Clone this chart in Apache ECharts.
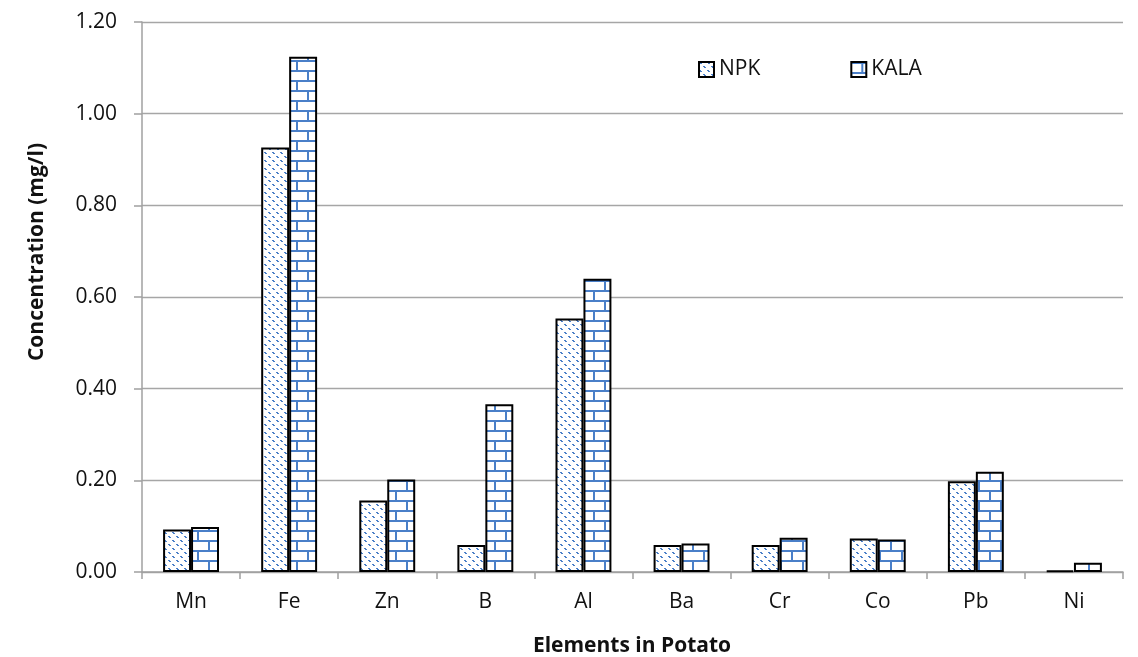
<!DOCTYPE html>
<html>
<head>
<meta charset="utf-8">
<script src="https://cdn.jsdelivr.net/npm/echarts@6/dist/echarts.min.js"></script>
<style>
html,body{margin:0;padding:0;background:#fff;}
#chart{width:1138px;height:657px;}
</style>
</head>
<body>
<div id="chart"></div>
<script>
const categories = ['Mn','Fe','Zn','B','Al','Ba','Cr','Co','Pb','Ni'];
const npkValues  = [0.093, 0.926, 0.156, 0.059, 0.553, 0.059, 0.059, 0.073, 0.198, 0.003];
const kalaValues = [0.098, 1.124, 0.202, 0.366, 0.640, 0.062, 0.075, 0.071, 0.219, 0.020];
const yTicks = [0, 0.2, 0.4, 0.6, 0.8, 1.0, 1.2];

const BLUE = '#4a7fc8';
const FONT = '"Open Sans", "Liberation Sans", sans-serif';

function makeDiagPattern() {
  const s = 8;
  const c = document.createElement('canvas');
  c.width = s; c.height = s;
  const g = c.getContext('2d');
  g.fillStyle = '#fff'; g.fillRect(0, 0, s, s);
  g.fillStyle = BLUE;
  [0, 1, 4, 5].forEach(i => {
    g.fillRect(i, i, 1, 1);
    g.fillRect((i + 1) % s, i, 1, 1);
  });
  return c;
}
function makeBrickPattern() {
  const w = 22, h = 20;
  const c = document.createElement('canvas');
  c.width = w; c.height = h;
  const g = c.getContext('2d');
  g.fillStyle = '#fff'; g.fillRect(0, 0, w, h);
  g.fillStyle = BLUE;
  g.fillRect(0, 0, w, 2);
  g.fillRect(0, 10, w, 2);
  g.fillRect(10, 2, 2, 8);
  g.fillRect(0, 12, 1, 8);
  g.fillRect(w - 1, 12, 1, 8);
  return c;
}

const chart = echarts.init(document.getElementById('chart'), null, {renderer: 'canvas'});
const option = {
  backgroundColor: '#fff',
  animation: false,
  grid: {left: 142, right: 15, top: 22, bottom: 85, containLabel: false},
  legend: {
    left: 693, top: 54,
    icon: 'rect',
    itemWidth: 15, itemHeight: 15, itemGap: 90,
    textStyle: {fontFamily: FONT, fontSize: 21, color: '#111'},
    data: ['NPK', 'KALA']
  },
  xAxis: {
    type: 'category',
    data: categories,
    axisLine: {lineStyle: {color: '#a0a0a0', width: 1.5}},
    axisTick: {show: true, length: 7, lineStyle: {color: '#a0a0a0', width: 1.5}},
    axisLabel: {fontFamily: FONT, fontSize: 21, color: '#111', margin: 20}
  },
  yAxis: {
    type: 'value',
    min: yTicks[0], max: yTicks[yTicks.length - 1], interval: 0.2,
    axisLine: {show: true, lineStyle: {color: '#a0a0a0', width: 1.5}},
    axisTick: {show: true, length: 8, lineStyle: {color: '#a0a0a0', width: 1.5}},
    axisLabel: {fontFamily: FONT, fontSize: 21, color: '#111', margin: 25,
      formatter: v => v.toFixed(2)},
    splitLine: {show: true, lineStyle: {color: '#a6a6a6', width: 1.3}}
  },
  series: [
    {
      name: 'NPK', type: 'bar', data: npkValues,
      barWidth: '28.5%', barGap: '0%',
      itemStyle: {color: {image: makeDiagPattern(), repeat: 'repeat'}, borderColor: '#000', borderWidth: 2}
    },
    {
      name: 'KALA', type: 'bar', data: kalaValues,
      barWidth: '28.5%', barGap: '0%',
      itemStyle: {color: {image: makeBrickPattern(), repeat: 'repeat'}, borderColor: '#000', borderWidth: 2}
    }
  ],
  graphic: [
    {type: 'text', x: 632, y: 646,
      style: {text: 'Elements in Potato', font: 'bold 21px ' + FONT, fill: '#111', align: 'center', verticalAlign: 'middle'}},
    {type: 'text', x: 37, y: 252, rotation: Math.PI / 2,
      style: {text: 'Concentration (mg/l)', font: 'bold 21px ' + FONT, fill: '#111',
        align: 'center', verticalAlign: 'middle'}}
  ]
};
chart.setOption(option);
</script>
</body>
</html>
